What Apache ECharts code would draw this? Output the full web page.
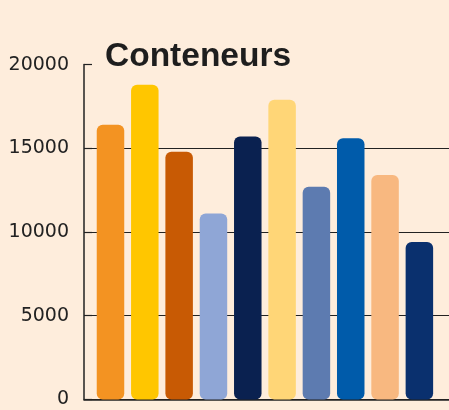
<!DOCTYPE html>
<html>
<head>
<meta charset="utf-8">
<script src="https://cdn.jsdelivr.net/npm/echarts@6/dist/echarts.min.js"></script>
<style>
html,body{margin:0;padding:0;background:#FEEDDC;}
#c{width:449px;height:410px;}
</style>
</head>
<body>
<div id="c"></div>
<script>
const categories = ["1","2","3","4","5","6","7","8","9","10"];
const values = [16400, 18800, 14800, 11100, 15700, 17900, 12700, 15600, 13400, 9400];
const barColors = ["#F39322","#FFC600","#C85A04","#8FA6D6","#0A2150","#FFD677","#5D7BB0","#005BAA","#F8B880","#0A306E"];
const yTicks = [0, 5000, 10000, 15000, 20000];

const chart = echarts.init(document.getElementById('c'), null, {renderer:'canvas'});
chart.setOption({
  backgroundColor: '#FEEDDC',
  animation: false,
  title: {
    text: 'Conteneurs',
    left: 100,
    top: 35,
    textStyle: {fontFamily: 'Liberation Sans', fontWeight: 'bold', fontSize: 33.5, color: '#1E1E1E'}
  },
  grid: {left: 84, right: 0, top: 64.6, bottom: 10.6, containLabel: false},
  xAxis: {
    type: 'value',
    min: -0.772,
    max: 9.863,
    axisLine: {show: true, onZero: false, lineStyle: {color: '#222', width: 1.5}},
    axisTick: {show: false},
    axisLabel: {show: false},
    splitLine: {show: false}
  },
  yAxis: {
    type: 'value',
    min: yTicks[0],
    max: yTicks[yTicks.length - 1],
    interval: yTicks[1] - yTicks[0],
    axisLine: {show: true, onZero: false, lineStyle: {color: '#222', width: 1.5}},
    axisTick: {show: true, inside: true, length: 8, lineStyle: {color: '#222', width: 1.2}},
    axisLabel: {fontFamily: 'DejaVu Sans', fontSize: 19, color: '#222', margin: 15, formatter: v => String(v)},
    splitLine: {show: true, lineStyle: {color: ['#222','#222','#222','#222','rgba(0,0,0,0)'], width: 1}}
  },
  series: [{
    type: 'bar',
    barWidth: 27.5,
    data: values.map((v, i) => ({
      name: categories[i],
      value: [i, v],
      itemStyle: {color: barColors[i], borderRadius: 6}
    }))
  }]
});
</script>
</body>
</html>
